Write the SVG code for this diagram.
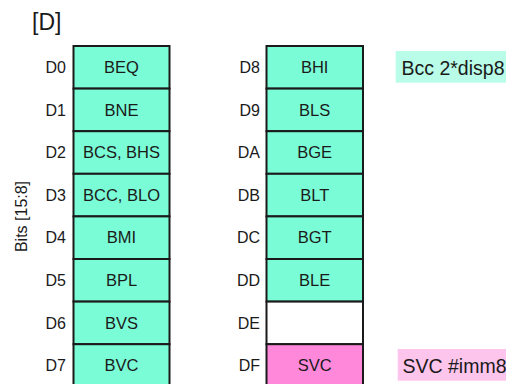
<svg xmlns="http://www.w3.org/2000/svg" width="506" height="384" viewBox="0 0 506 384">
<style>
.cell{fill:#7afcd6;stroke:#1a1a1a;stroke-width:2}
.empty{fill:#ffffff;stroke:#1a1a1a;stroke-width:2}
.svc{fill:#ff88db;stroke:#1a1a1a;stroke-width:2}
text{font-family:"Liberation Sans",Arial,sans-serif;fill:#1a1a1a}
.t{font-size:16.5px;text-anchor:middle}
.l{font-size:16px;text-anchor:end}
.side{font-size:19.5px}
</style>
<rect width="506" height="384" fill="#ffffff"/>
<text x="32" y="30" style="font-size:23px">[D]</text>
<text transform="translate(27,216.5) rotate(-90)" style="font-size:16px;text-anchor:middle">Bits [15:8]</text>
<g id="row-labels-left">
<text class="l" x="66" y="73">D0</text>
<text class="l" x="66" y="115.6">D1</text>
<text class="l" x="66" y="158.2">D2</text>
<text class="l" x="66" y="200.8">D3</text>
<text class="l" x="66" y="243.4">D4</text>
<text class="l" x="66" y="286">D5</text>
<text class="l" x="66" y="328.6">D6</text>
<text class="l" x="66" y="371.2">D7</text>
</g>
<g id="row-labels-right">
<text class="l" x="260" y="73">D8</text>
<text class="l" x="260" y="115.6">D9</text>
<text class="l" x="260" y="158.2">DA</text>
<text class="l" x="260" y="200.8">DB</text>
<text class="l" x="260" y="243.4">DC</text>
<text class="l" x="260" y="286">DD</text>
<text class="l" x="260" y="328.6">DE</text>
<text class="l" x="260" y="371.2">DF</text>
</g>
<g id="D0"><rect class="cell" x="73.5" y="46" width="96" height="42.6"/><text class="t" x="121.5" y="73">BEQ</text></g>
<g id="D1"><rect class="cell" x="73.5" y="88.6" width="96" height="42.6"/><text class="t" x="121.5" y="115.6">BNE</text></g>
<g id="D2"><rect class="cell" x="73.5" y="131.2" width="96" height="42.6"/><text class="t" x="121.5" y="158.2">BCS, BHS</text></g>
<g id="D3"><rect class="cell" x="73.5" y="173.8" width="96" height="42.6"/><text class="t" x="121.5" y="200.8">BCC, BLO</text></g>
<g id="D4"><rect class="cell" x="73.5" y="216.4" width="96" height="42.6"/><text class="t" x="121.5" y="243.4">BMI</text></g>
<g id="D5"><rect class="cell" x="73.5" y="259" width="96" height="42.6"/><text class="t" x="121.5" y="286">BPL</text></g>
<g id="D6"><rect class="cell" x="73.5" y="301.6" width="96" height="42.6"/><text class="t" x="121.5" y="328.6">BVS</text></g>
<g id="D7"><rect class="cell" x="73.5" y="344.2" width="96" height="42.6"/><text class="t" x="121.5" y="371.2">BVC</text></g>
<g id="D8"><rect class="cell" x="266.5" y="46" width="96.5" height="42.6"/><text class="t" x="314.7" y="73">BHI</text></g>
<g id="D9"><rect class="cell" x="266.5" y="88.6" width="96.5" height="42.6"/><text class="t" x="314.7" y="115.6">BLS</text></g>
<g id="DA"><rect class="cell" x="266.5" y="131.2" width="96.5" height="42.6"/><text class="t" x="314.7" y="158.2">BGE</text></g>
<g id="DB"><rect class="cell" x="266.5" y="173.8" width="96.5" height="42.6"/><text class="t" x="314.7" y="200.8">BLT</text></g>
<g id="DC"><rect class="cell" x="266.5" y="216.4" width="96.5" height="42.6"/><text class="t" x="314.7" y="243.4">BGT</text></g>
<g id="DD"><rect class="cell" x="266.5" y="259" width="96.5" height="42.6"/><text class="t" x="314.7" y="286">BLE</text></g>
<g id="DE"><rect class="empty" x="266.5" y="301.6" width="96.5" height="42.6"/></g>
<g id="DF"><rect class="svc" x="266.5" y="344.2" width="96.5" height="42.6"/><text class="t" x="314.7" y="371.2">SVC</text></g>
<g id="bcc-label"><rect x="395.7" y="51" width="112" height="31.7" fill="#b9fde8"/><text class="side" x="401.5" y="75">Bcc 2*disp8</text></g>
<g id="svc-label"><rect x="397.7" y="349" width="110" height="31.7" fill="#fdc5ec"/><text class="side" x="402.5" y="372.5">SVC #imm8</text></g>
<g id="connectors"></g>
</svg>
